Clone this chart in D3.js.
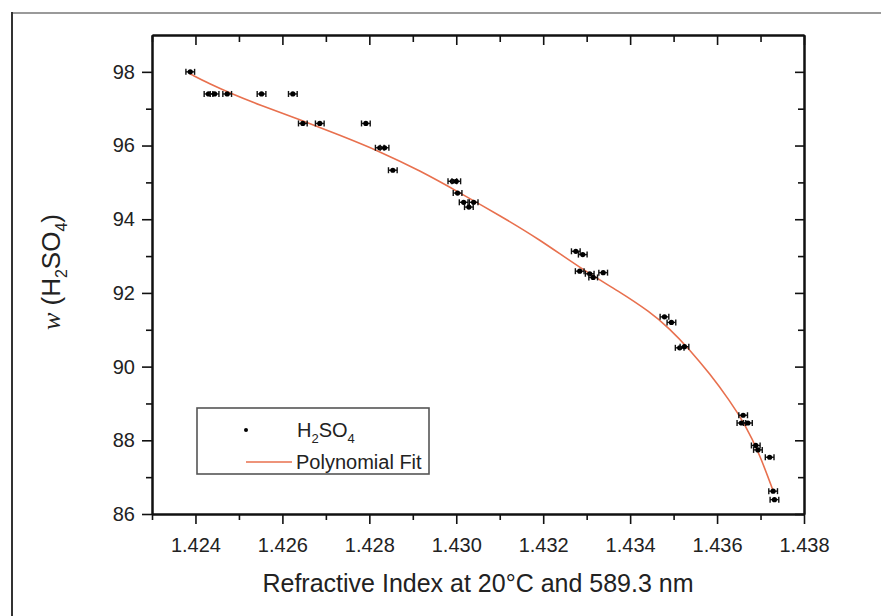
<!DOCTYPE html>
<html>
<head>
<meta charset="utf-8">
<script src="https://cdn.jsdelivr.net/npm/d3@7"></script>
<style>
    body { margin: 0; background: #fff; }
    text { font-family: "Liberation Sans", Arial, sans-serif; fill: #222; }
</style>
</head>
<body>
<div id="chart"></div>
<script>
// measured points: refractive index vs mass fraction of H2SO4
const refIndex = [1.42388, 1.42430, 1.42444, 1.42473, 1.42552, 1.42624, 1.42647, 1.42686, 1.42792,
    1.42824, 1.42835, 1.42854, 1.42991, 1.43000, 1.43003, 1.43017, 1.43040, 1.43029,
    1.43275, 1.43291, 1.43284, 1.43307, 1.43315, 1.43338, 1.43479, 1.43495, 1.43514, 1.43525,
    1.43660, 1.43656, 1.43671, 1.43689, 1.43694, 1.43721, 1.43729, 1.43732];
const massFrac = [98.00, 97.40, 97.40, 97.40, 97.40, 97.40, 96.60, 96.60, 96.60,
    95.94, 95.94, 95.33, 95.03, 95.03, 94.71, 94.46, 94.46, 94.33,
    93.13, 93.04, 92.59, 92.52, 92.42, 92.55, 91.35, 91.20, 90.51, 90.54,
    88.68, 88.47, 88.47, 87.86, 87.74, 87.54, 86.62, 86.39];
const refErr = 0.0001;

// polynomial fit curve
const fitIndex = [1.42387, 1.42433, 1.42479, 1.42548, 1.42640, 1.42732, 1.42824, 1.42916, 1.43008,
    1.43100, 1.43192, 1.43284, 1.43376, 1.43445, 1.43491, 1.43537, 1.43583, 1.43629,
    1.43663, 1.43698, 1.43728];
const fitMass = [97.95, 97.67, 97.43, 97.10, 96.70, 96.28, 95.84, 95.32, 94.72,
    94.10, 93.45, 92.68, 92.03, 91.49, 91.03, 90.46, 89.81, 89.08,
    88.46, 87.62, 86.66];

const xMajor = [1.424, 1.426, 1.428, 1.430, 1.432, 1.434, 1.436, 1.438];
const xMinor = [1.423, 1.425, 1.427, 1.429, 1.431, 1.433, 1.435, 1.437];
const yMajor = [86, 88, 90, 92, 94, 96, 98];
const yMinor = [87, 89, 91, 93, 95, 97];

const width = 881, height = 616;
const margin = { left: 152, right: 77, top: 35, bottom: 102 };

let svg = d3.select('#chart')
    .append('svg')
    .attr('width', width)
    .attr('height', height);

// outer frame lines of the figure
svg.append('line')
    .attr('x1', 11).attr('x2', width).attr('y1', 13).attr('y2', 13)
    .style('stroke', '#9a9a9a').style('stroke-width', 2);
svg.append('line')
    .attr('x1', 12).attr('x2', 12).attr('y1', 12).attr('y2', height)
    .style('stroke', '#333').style('stroke-width', 2);

let x = d3.scaleLinear().domain([1.423, 1.438]).range([margin.left, width - margin.right]);
let y = d3.scaleLinear().domain([86, 99]).range([height - margin.bottom, margin.top]);

let x0 = margin.left, x1 = width - margin.right;
let y0 = height - margin.bottom, y1 = margin.top;

function styleAxis(g) {
    g.selectAll('path').style('stroke', '#111').style('stroke-width', 2);
    g.selectAll('line').style('stroke', '#111').style('stroke-width', 1.6);
    g.selectAll('text').style('font-size', '20px').style('fill', '#222');
}

// bottom axis
svg.append('g')
    .attr('transform', 'translate(0,' + y0 + ')')
    .call(d3.axisBottom(x).tickValues(xMinor).tickSize(6).tickSizeOuter(0).tickFormat(''))
    .call(styleAxis);
svg.append('g')
    .attr('transform', 'translate(0,' + y0 + ')')
    .call(d3.axisBottom(x).tickValues(xMajor).tickSize(10).tickSizeOuter(0).tickPadding(14).tickFormat(d3.format('.3f')))
    .call(styleAxis);

// top axis, ticks inward
svg.append('g')
    .attr('transform', 'translate(0,' + y1 + ')')
    .call(d3.axisTop(x).tickValues(xMinor).tickSize(-7).tickSizeOuter(0).tickFormat(''))
    .call(styleAxis);
svg.append('g')
    .attr('transform', 'translate(0,' + y1 + ')')
    .call(d3.axisTop(x).tickValues(xMajor).tickSize(-10).tickSizeOuter(0).tickFormat(''))
    .call(styleAxis);

// left axis
svg.append('g')
    .attr('transform', 'translate(' + x0 + ',0)')
    .call(d3.axisLeft(y).tickValues(yMinor).tickSize(6).tickSizeOuter(0).tickFormat(''))
    .call(styleAxis);
svg.append('g')
    .attr('transform', 'translate(' + x0 + ',0)')
    .call(d3.axisLeft(y).tickValues(yMajor).tickSize(10).tickSizeOuter(0).tickPadding(7))
    .call(styleAxis);

// right axis, ticks inward
svg.append('g')
    .attr('transform', 'translate(' + x1 + ',0)')
    .call(d3.axisRight(y).tickValues(yMinor).tickSize(-6).tickSizeOuter(0).tickFormat(''))
    .call(styleAxis);
svg.append('g')
    .attr('transform', 'translate(' + x1 + ',0)')
    .call(d3.axisRight(y).tickValues(yMajor).tickSize(-9).tickSizeOuter(0).tickFormat(''))
    .call(styleAxis);

// fit line
let fitData = fitIndex.map((d, i) => [d, fitMass[i]]);
svg.append('path')
    .datum(fitData)
    .attr('d', d3.line().x(d => x(d[0])).y(d => y(d[1])).curve(d3.curveBasis))
    .style('fill', 'none')
    .style('stroke', '#e8704e')
    .style('stroke-width', 1.6);

// points with horizontal error bars
let points = refIndex.map((d, i) => [d, massFrac[i]]);
let pg = svg.append('g')
    .selectAll('.pt')
    .data(points)
    .enter()
    .append('g')
    .attr('class', 'pt');

pg.append('line')
    .attr('x1', d => x(d[0] - refErr))
    .attr('x2', d => x(d[0] + refErr))
    .attr('y1', d => y(d[1]))
    .attr('y2', d => y(d[1]))
    .style('stroke', '#111')
    .style('stroke-width', 1.4);
pg.append('line')
    .attr('x1', d => x(d[0] - refErr))
    .attr('x2', d => x(d[0] - refErr))
    .attr('y1', d => y(d[1]) - 3)
    .attr('y2', d => y(d[1]) + 3)
    .style('stroke', '#111')
    .style('stroke-width', 1.4);
pg.append('line')
    .attr('x1', d => x(d[0] + refErr))
    .attr('x2', d => x(d[0] + refErr))
    .attr('y1', d => y(d[1]) - 3)
    .attr('y2', d => y(d[1]) + 3)
    .style('stroke', '#111')
    .style('stroke-width', 1.4);
pg.append('circle')
    .attr('cx', d => x(d[0]))
    .attr('cy', d => y(d[1]))
    .attr('r', 2.6)
    .style('fill', '#000');

// legend
let lg = svg.append('g').attr('transform', 'translate(197,408)');
lg.append('rect')
    .attr('width', 232).attr('height', 66)
    .style('fill', '#fff').style('stroke', '#555').style('stroke-width', 1.6);
lg.append('circle').attr('cx', 49).attr('cy', 22).attr('r', 2).style('fill', '#000');
let t1 = lg.append('text').attr('x', 100).attr('y', 29).style('font-size', '20px');
t1.append('tspan').text('H');
t1.append('tspan').attr('dy', 6).style('font-size', '13px').text('2');
t1.append('tspan').attr('dy', -6).text('SO');
t1.append('tspan').attr('dy', 6).style('font-size', '13px').text('4');
lg.append('line')
    .attr('x1', 49).attr('x2', 95).attr('y1', 54).attr('y2', 54)
    .style('stroke', '#e8704e').style('stroke-width', 1.6);
lg.append('text').attr('x', 99).attr('y', 61).style('font-size', '20px').text('Polynomial Fit');

// axis titles
svg.append('text')
    .attr('x', (x0 + x1) / 2)
    .attr('y', 592)
    .attr('text-anchor', 'middle')
    .style('font-size', '25px')
    .text('Refractive Index at 20°C and 589.3 nm');

let yt = svg.append('text')
    .attr('transform', 'translate(60,272) rotate(-90)')
    .attr('text-anchor', 'middle')
    .style('font-size', '26px');
yt.append('tspan').style('font-family', '"Liberation Serif", "Times New Roman", serif').style('font-style', 'italic').text('w');
yt.append('tspan').text(' (H');
yt.append('tspan').attr('dy', 7).style('font-size', '16px').text('2');
yt.append('tspan').attr('dy', -7).text('SO');
yt.append('tspan').attr('dy', 7).style('font-size', '16px').text('4');
yt.append('tspan').attr('dy', -7).text(')');
</script>
</body>
</html>
